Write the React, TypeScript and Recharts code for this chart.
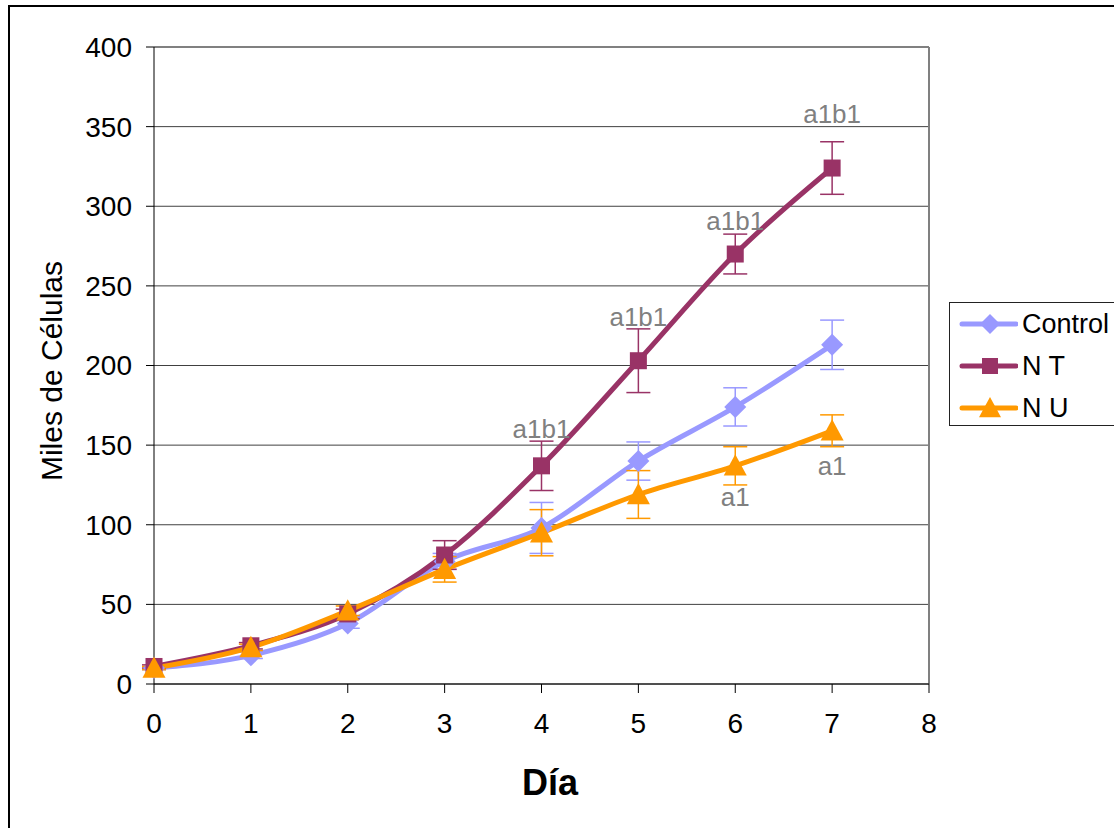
import React from "react";
import {
  ComposedChart, Line, Scatter, XAxis, YAxis, CartesianGrid, ErrorBar, ReferenceLine,
} from "recharts";

// ─── Data ─────────────────────────────────────────────────────────────────────

const days = [0, 1, 2, 3, 4, 5, 6, 7];
const control = [10, 18, 38, 77, 98, 140, 174, 213];
const controlErr = [1, 2, 3, 5, 16, 12, 12, 15.5];
const nt = [11, 24, 44, 81, 137, 203, 270, 324];
const ntErr = [1, 2, 3, 9, 15.5, 20, 12.5, 16.5];
const nu = [10, 23, 46, 72, 95, 119, 137, 159];
const nuErr = [1, 2, 3, 8, 14.5, 15, 12, 10];

const xTicks = [0, 1, 2, 3, 4, 5, 6, 7, 8];
const yTicks = [0, 50, 100, 150, 200, 250, 300, 350, 400];

// significance marks (text, day, baseline value)
const marks = [
  { day: 4, at: 154.5, text: "a1b1" },
  { day: 5, at: 224.8, text: "a1b1" },
  { day: 6, at: 285, text: "a1b1" },
  { day: 7, at: 352.3, text: "a1b1" },
  { day: 6, at: 111.8, text: "a1" },
  { day: 7, at: 131.2, text: "a1" },
];

const rows = days.map((d, i) => ({
  day: d,
  control: control[i], controlErr: controlErr[i],
  nt: nt[i], ntErr: ntErr[i],
  nu: nu[i], nuErr: nuErr[i],
}));

// ─── Colours / fonts ──────────────────────────────────────────────────────────

const C_CONTROL = "#9999FF";
const C_NT = "#993366";
const C_NU = "#FF9900";
const FONT = "'Liberation Sans', Arial, sans-serif";

// ─── Markers ──────────────────────────────────────────────────────────────────

function Diamond({ cx, cy, color, r = 11 }: { cx?: number; cy?: number; color: string; r?: number }) {
  if (cx == null || cy == null) return null;
  return <path d={`M${cx},${cy - r} L${cx + r},${cy} L${cx},${cy + r} L${cx - r},${cy} Z`} fill={color} />;
}

function Square({ cx, cy, color, s = 8.5 }: { cx?: number; cy?: number; color: string; s?: number }) {
  if (cx == null || cy == null) return null;
  return <rect x={cx - s} y={cy - s} width={s * 2} height={s * 2} fill={color} />;
}

function Triangle({ cx, cy, color, w = 11.5 }: { cx?: number; cy?: number; color: string; w?: number }) {
  if (cx == null || cy == null) return null;
  return <path d={`M${cx},${cy - w} L${cx + w},${cy + w * 0.85} L${cx - w},${cy + w * 0.85} Z`} fill={color} />;
}

function MarkText(props: any) {
  const { cx, cy, payload } = props;
  return (
    <text x={cx} y={cy} textAnchor="middle" fill="#808080" fontSize={26} fontFamily={FONT}>
      {payload.text}
    </text>
  );
}

// ─── Legend ───────────────────────────────────────────────────────────────────

function LegendRow({ label, color, marker }: { label: string; color: string; marker: React.ReactNode }) {
  return (
    <div style={{ display: "flex", alignItems: "center", height: 42 }}>
      <svg width={62} height={30}>
        <line x1={6} y1={15} x2={60} y2={15} stroke={color} strokeWidth={5} strokeLinecap="round" />
        {marker}
      </svg>
      <span style={{ fontSize: 27, fontFamily: FONT, color: "#000", marginLeft: 4 }}>{label}</span>
    </div>
  );
}

// ─── Main ─────────────────────────────────────────────────────────────────────

export default function App() {
  return (
    <div style={{ position: "relative", width: 1114, height: 828, background: "#fff", overflow: "hidden" }}>
      <style>{`body{margin:0}`}</style>

      {/* outer chart border */}
      <div style={{
        position: "absolute", left: 8, top: 5, width: 1200, height: 900,
        borderLeft: "2px solid #000", borderTop: "2px solid #000",
      }} />

      <ComposedChart
        width={1114}
        height={828}
        data={rows}
        margin={{ top: 47, right: 185, bottom: 84, left: 0 }}
        style={{ position: "absolute", left: 0, top: 0 }}
      >
        <CartesianGrid vertical={false} stroke="#404040" strokeWidth={1} />
        <XAxis
          type="number"
          dataKey="day"
          domain={[0, 8]}
          ticks={xTicks}
          height={60}
          tickSize={9}
          tickMargin={20}
          stroke="#000"
          tick={{ fill: "#000", fontSize: 28, fontFamily: FONT }}
          label={{
            content: () => (
              <text x={550} y={795} textAnchor="middle" fontSize={36} fontWeight="bold" fontFamily={FONT} fill="#000">
                Día
              </text>
            ),
          }}
        />
        <YAxis
          type="number"
          domain={[0, 400]}
          ticks={yTicks}
          width={154}
          tickSize={8}
          tickMargin={14}
          stroke="#000"
          tick={{ fill: "#000", fontSize: 28, fontFamily: FONT }}
          label={{
            content: () => (
              <text
                x={62}
                y={371}
                textAnchor="middle"
                transform="rotate(-90 62 371)"
                fontSize={30}
                fontFamily={FONT}
                fill="#000"
              >
                Miles de Células
              </text>
            ),
          }}
        />
        <ReferenceLine y={400} stroke="#808080" strokeWidth={2} />
        <ReferenceLine x={8} stroke="#808080" strokeWidth={2} />

        <Line
          type="monotone"
          dataKey="control"
          stroke={C_CONTROL}
          strokeWidth={5}
          isAnimationActive={false}
          dot={(p: any) => <Diamond key={`c${p.index}`} cx={p.cx} cy={p.cy} color={C_CONTROL} />}
        >
          <ErrorBar dataKey="controlErr" direction="y" width={12} stroke={C_CONTROL} strokeWidth={1.5} />
        </Line>
        <Line
          type="monotone"
          dataKey="nt"
          stroke={C_NT}
          strokeWidth={5}
          isAnimationActive={false}
          dot={(p: any) => <Square key={`t${p.index}`} cx={p.cx} cy={p.cy} color={C_NT} />}
        >
          <ErrorBar dataKey="ntErr" direction="y" width={12} stroke={C_NT} strokeWidth={1.5} />
        </Line>
        <Line
          type="monotone"
          dataKey="nu"
          stroke={C_NU}
          strokeWidth={5}
          isAnimationActive={false}
          dot={(p: any) => <Triangle key={`u${p.index}`} cx={p.cx} cy={p.cy} color={C_NU} />}
        >
          <ErrorBar dataKey="nuErr" direction="y" width={12} stroke={C_NU} strokeWidth={1.5} />
        </Line>

        <Scatter
          data={marks}
          dataKey="at"
          isAnimationActive={false}
          shape={MarkText}
          legendType="none"
        />
      </ComposedChart>

      {/* legend */}
      <div style={{
        position: "absolute", left: 949, top: 302, width: 200, height: 124,
        border: "1.5px solid #222", background: "#fff", paddingLeft: 6, boxSizing: "border-box",
        paddingTop: 0,
      }}>
        <LegendRow label="Control" color={C_CONTROL} marker={<Diamond cx={34} cy={15} color={C_CONTROL} r={10} />} />
        <LegendRow label="N T" color={C_NT} marker={<Square cx={34} cy={15} color={C_NT} s={8} />} />
        <LegendRow label="N U" color={C_NU} marker={<Triangle cx={34} cy={15} color={C_NU} w={11} />} />
      </div>
    </div>
  );
}
